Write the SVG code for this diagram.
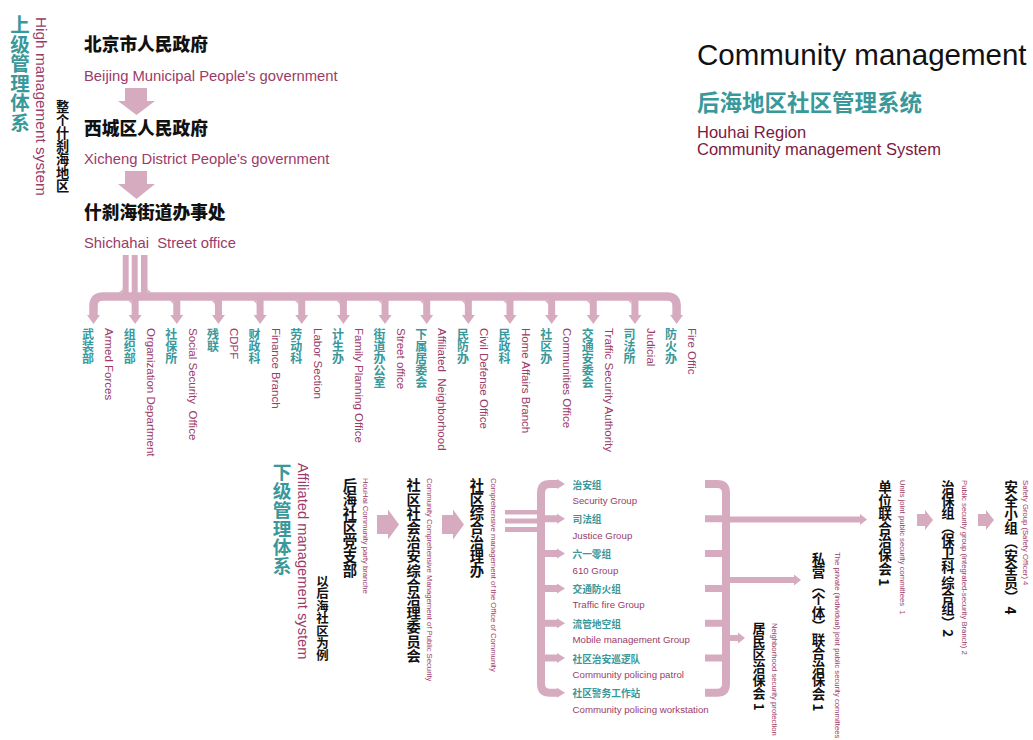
<svg xmlns="http://www.w3.org/2000/svg" width="1033" height="740" viewBox="0 0 1033 740">
  <style>
    .pk { fill: #d7abbf; }
    .pks { fill: none; stroke: #d7abbf; }
    .cn { font-family: "Noto Sans CJK SC", sans-serif; }
    .v { writing-mode: vertical-rl; }
    .hd { font-family: "Noto Sans CJK SC", sans-serif; font-weight: 900; fill: #111; }
    .hv { font-family: "Noto Sans CJK SC", sans-serif; font-weight: 700; fill: #111; writing-mode: vertical-rl; }
    .teal { fill: #38989a; font-weight: 700; }
    .en { font-family: "Liberation Sans", Arial, sans-serif; fill: #9b3b68; white-space: pre; }
    .dk { font-family: "Liberation Sans", Arial, sans-serif; fill: #7a1a42; }
    .dep { font-size: 12px; }
    .dep-en { font-size: 11.5px; }
    .tiny { font-size: 7.7px; }
    .grp { font-size: 9.7px; }
  </style>

  <!-- title block -->
  <g id="title">
    <text x="697" y="65" font-family="Liberation Sans, Arial, sans-serif" font-size="29.5" fill="#111">Community management</text>
    <text x="697" y="111" class="cn teal" font-size="22.5" font-weight="900">后海地区社区管理系统</text>
    <text x="697" y="138" class="dk" font-size="16.5">Houhai Region</text>
    <text x="697" y="155" class="dk" font-size="16.5">Community management System</text>
  </g>

  <!-- upper management labels -->
  <g id="upper-system">
    <text x="20" y="15" class="cn teal v" font-size="19.5" font-weight="900">上级管理体系</text>
    <text transform="translate(35.5,17) rotate(90)" class="en" font-size="15.4">High management system</text>
    <text x="62.5" y="100" class="hv" font-size="13.2">整个什刹海地区</text>
  </g>

  <g id="beijing">
    <text x="84" y="51" class="hd" font-size="17.7">北京市人民政府</text>
    <text x="84" y="81" class="en" font-size="14.8">Beijing Municipal People's government</text>
  </g>
  <g id="xicheng">
    <text x="84" y="135" class="hd" font-size="17.7">西城区人民政府</text>
    <text x="84" y="164" class="en" font-size="14.8">Xicheng District People's government</text>
  </g>
  <g id="shichahai">
    <text x="84" y="219" class="hd" font-size="17.7">什刹海街道办事处</text>
    <text x="84" y="248" class="en" font-size="14.8">Shichahai  Street office</text>
  </g>

  <!-- connectors -->
  <g id="connectors">
    <!-- downward block arrows -->
    <path class="pk" d="M125 88 H147 V101 H155 L136.5 115 L118 101 H125 Z"/>
    <path class="pk" d="M125 171 H147 V184 H155 L136.5 199 L118 184 H125 Z"/>

    <!-- triple feed into the department bar -->
    <rect class="pk" x="122.7" y="255" width="6" height="42"/>
    <rect class="pk" x="131.7" y="255" width="6" height="42"/>
    <rect class="pk" x="141" y="255" width="6.5" height="42"/>
    <path class="pk" d="M122.7 287.25 A5 5 0 0 1 117.7 292.25 H122.7 Z"/>
    <path class="pk" d="M147.5 287.25 A5 5 0 0 0 152.5 292.25 H147.5 Z"/>

    <!-- department bar with end drops -->
    <path class="pks" stroke-width="8.5" d="M93.5 316 V306 Q93.5 296.5 103 296.5 H667 Q676.6 296.5 676.6 306 V316"/>

    <!-- middle drops -->
    <g class="pk">
      <rect x="131.65" y="299" width="7" height="17"/><path d="M126.65 300.75 A5 5 0 0 1 131.65 305.75 V300.75 Z"/>
      <rect x="173.3" y="299" width="7" height="17"/><path d="M168.3 300.75 A5 5 0 0 1 173.3 305.75 V300.75 Z"/>
      <rect x="214.95" y="299" width="7" height="17"/><path d="M209.95 300.75 A5 5 0 0 1 214.95 305.75 V300.75 Z"/>
      <rect x="256.6" y="299" width="7" height="17"/><path d="M251.6 300.75 A5 5 0 0 1 256.6 305.75 V300.75 Z"/>
      <rect x="298.25" y="299" width="7" height="17"/><path d="M293.25 300.75 A5 5 0 0 1 298.25 305.75 V300.75 Z"/>
      <rect x="339.9" y="299" width="7" height="17"/><path d="M334.9 300.75 A5 5 0 0 1 339.9 305.75 V300.75 Z"/>
      <rect x="381.55" y="299" width="7" height="17"/><path d="M376.55 300.75 A5 5 0 0 1 381.55 305.75 V300.75 Z"/>
      <rect x="423.2" y="299" width="7" height="17"/><path d="M418.2 300.75 A5 5 0 0 1 423.2 305.75 V300.75 Z"/>
      <rect x="464.85" y="299" width="7" height="17"/><path d="M459.85 300.75 A5 5 0 0 1 464.85 305.75 V300.75 Z"/>
      <rect x="506.5" y="299" width="7" height="17"/><path d="M501.5 300.75 A5 5 0 0 1 506.5 305.75 V300.75 Z"/>
      <rect x="548.15" y="299" width="7" height="17"/><path d="M543.15 300.75 A5 5 0 0 1 548.15 305.75 V300.75 Z"/>
      <rect x="589.8" y="299" width="7" height="17"/><path d="M584.8 300.75 A5 5 0 0 1 589.8 305.75 V300.75 Z"/>
      <rect x="631.45" y="299" width="7" height="17"/><path d="M626.45 300.75 A5 5 0 0 1 631.45 305.75 V300.75 Z"/>
    </g>
    <!-- drop arrowheads -->
    <g class="pk">
      <polygon points="87,315 100,315 93.5,324"/>
      <polygon points="128.65,315 141.65,315 135.15,324"/>
      <polygon points="170.3,315 183.3,315 176.8,324"/>
      <polygon points="211.95,315 224.95,315 218.45,324"/>
      <polygon points="253.6,315 266.6,315 260.1,324"/>
      <polygon points="295.25,315 308.25,315 301.75,324"/>
      <polygon points="336.9,315 349.9,315 343.4,324"/>
      <polygon points="378.55,315 391.55,315 385.05,324"/>
      <polygon points="420.2,315 433.2,315 426.7,324"/>
      <polygon points="461.85,315 474.85,315 468.35,324"/>
      <polygon points="503.5,315 516.5,315 510,324"/>
      <polygon points="545.15,315 558.15,315 551.65,324"/>
      <polygon points="586.8,315 599.8,315 593.3,324"/>
      <polygon points="628.45,315 641.45,315 634.95,324"/>
      <polygon points="670.1,315 683.1,315 676.6,324"/>
    </g>

    <!-- lower chain arrows -->
    <path class="pk" d="M377 515 H388 V509.5 L399 524.5 L388 539.5 V534 H377 Z"/>
    <path class="pk" d="M442 515 H453 V509.5 L464 524.5 L453 539.5 V534 H442 Z"/>

    <!-- triple feed into the group bracket -->
    <rect class="pk" x="505" y="510" width="37" height="4.5"/>
    <rect class="pk" x="505" y="518.5" width="37" height="5"/>
    <rect class="pk" x="505" y="527" width="37" height="5"/>

    <!-- left bracket -->
    <path class="pks" stroke-width="8" d="M558 484 H550 Q541 484 541 493 V683.8 Q541 692.8 550 692.8 H558"/>
    <path class="pks" stroke-width="7" d="M541 518.8 H558 M541 553.6 H558 M541 588.4 H558 M541 623.2 H558 M541 658 H558"/>
    <g class="pk">
      <polygon points="557,479 565,484 557,489"/>
      <polygon points="557,513.8 565,518.8 557,523.8"/>
      <polygon points="557,548.6 565,553.6 557,558.6"/>
      <polygon points="557,583.4 565,588.4 557,593.4"/>
      <polygon points="557,618.2 565,623.2 557,628.2"/>
      <polygon points="557,653 565,658 557,663"/>
      <polygon points="557,687.8 565,692.8 557,697.8"/>
    </g>

    <!-- right bracket -->
    <path class="pks" stroke-width="8" d="M705 484 H717 Q726 484 726 493 V683.8 Q726 692.8 717 692.8 H705"/>
    <path class="pks" stroke-width="7" d="M705 518.8 H726 M705 553.6 H726 M705 588.4 H726 M705 623.2 H726 M705 658 H726"/>
    <path class="pks" stroke-width="6" d="M726 519.5 H861 M726 580 H795 M726 638 H739"/>
    <g class="pk">
      <polygon points="860,514 867,519.5 860,525"/>
      <polygon points="794,574.5 801,580 794,585.5"/>
      <polygon points="738,632.5 745,638 738,643.5"/>
    </g>

    <!-- unit chain arrows -->
    <path class="pk" d="M917 514 H925 V510 L933 520 L925 530 V526 H917 Z"/>
    <path class="pk" d="M978 514 H986 V510 L994 520 L986 530 V526 H978 Z"/>
  </g>

  <!-- street office departments -->
  <g id="departments">
    <g id="dep-armed"><text x="88" y="328" class="cn teal dep v">武装部</text><text transform="translate(105.2,328) rotate(90)" class="en dep-en">Armed Forces</text></g>
    <g id="dep-org"><text x="129.7" y="328" class="cn teal dep v">组织部</text><text transform="translate(146.9,328) rotate(90)" class="en dep-en">Organization Department</text></g>
    <g id="dep-social"><text x="171.3" y="328" class="cn teal dep v">社保所</text><text transform="translate(188.5,328) rotate(90)" class="en dep-en">Social Security  Office</text></g>
    <g id="dep-cdpf"><text x="213" y="328" class="cn teal dep v">残联</text><text transform="translate(230.2,328) rotate(90)" class="en dep-en">CDPF</text></g>
    <g id="dep-finance"><text x="254.6" y="328" class="cn teal dep v">财政科</text><text transform="translate(271.8,328) rotate(90)" class="en dep-en">Finance Branch</text></g>
    <g id="dep-labor"><text x="296.3" y="328" class="cn teal dep v">劳动科</text><text transform="translate(313.5,328) rotate(90)" class="en dep-en">Labor Section</text></g>
    <g id="dep-family"><text x="337.9" y="328" class="cn teal dep v">计生办</text><text transform="translate(355.1,328) rotate(90)" class="en dep-en">Family Planning Office</text></g>
    <g id="dep-street"><text x="379.6" y="328" class="cn teal dep v">街道办公室</text><text transform="translate(396.8,328) rotate(90)" class="en dep-en">Street office</text></g>
    <g id="dep-neigh"><text x="421.2" y="328" class="cn teal dep v">下属居委会</text><text transform="translate(438.4,328) rotate(90)" class="en dep-en">Affiliated  Neighborhood</text></g>
    <g id="dep-civil"><text x="462.9" y="328" class="cn teal dep v">民防办</text><text transform="translate(480.1,328) rotate(90)" class="en dep-en">Civil Defense Office</text></g>
    <g id="dep-home"><text x="504.5" y="328" class="cn teal dep v">民政科</text><text transform="translate(521.7,328) rotate(90)" class="en dep-en">Home Affairs Branch</text></g>
    <g id="dep-comm"><text x="546.2" y="328" class="cn teal dep v">社区办</text><text transform="translate(563.4,328) rotate(90)" class="en dep-en">Communities Office</text></g>
    <g id="dep-traffic"><text x="587.8" y="328" class="cn teal dep v">交通安委会</text><text transform="translate(605,328) rotate(90)" class="en dep-en">Traffic Security Authority</text></g>
    <g id="dep-judicial"><text x="629.5" y="328" class="cn teal dep v">司法所</text><text transform="translate(646.7,328) rotate(90)" class="en dep-en">Judicial</text></g>
    <g id="dep-fire"><text x="671.1" y="328" class="cn teal dep v">防火办</text><text transform="translate(688.3,328) rotate(90)" class="en dep-en">Fire Offic</text></g>
  </g>

  <!-- lower management labels -->
  <g id="lower-system">
    <text x="282" y="463" class="cn teal v" font-size="18.7" font-weight="900">下级管理体系</text>
    <text transform="translate(297.5,463) rotate(90)" class="en" font-size="14.7">Affiliated management system</text>
    <text x="322.5" y="575" class="hv" font-size="12.4">以后海社区为例</text>
  </g>

  <g id="party-branch">
    <text x="350" y="478" class="hv" font-size="14.3">后海社区党支部</text>
    <text transform="translate(363,478) rotate(90)" class="en tiny">HouHai Community party branche</text>
  </g>
  <g id="security-committee">
    <text x="413.5" y="478" class="hv" font-size="14.2">社区社会治安综合治理委员会</text>
    <text transform="translate(427,478) rotate(90)" class="en tiny">Community Comprehensive Management of Public Security</text>
  </g>
  <g id="governance-office">
    <text x="477" y="478" class="hv" font-size="14.3">社区综合治理办</text>
    <text transform="translate(491,478) rotate(90)" class="en tiny">Comprehensive management of the Office of Community</text>
  </g>

  <!-- working groups -->
  <g id="groups">
    <g id="grp-security"><text x="572.5" y="488.5" class="cn teal grp">治安组</text><text x="572.5" y="504" class="en grp">Security Group</text></g>
    <g id="grp-justice"><text x="572.5" y="523.3" class="cn teal grp">司法组</text><text x="572.5" y="538.8" class="en grp">Justice Group</text></g>
    <g id="grp-610"><text x="572.5" y="558.1" class="cn teal grp">六一零组</text><text x="572.5" y="573.6" class="en grp">610 Group</text></g>
    <g id="grp-traffic"><text x="572.5" y="592.9" class="cn teal grp">交通防火组</text><text x="572.5" y="608.4" class="en grp">Traffic fire Group</text></g>
    <g id="grp-mobile"><text x="572.5" y="627.7" class="cn teal grp">流管地空组</text><text x="572.5" y="643.2" class="en grp">Mobile management Group</text></g>
    <g id="grp-patrol"><text x="572.5" y="662.5" class="cn teal grp">社区治安巡逻队</text><text x="572.5" y="678" class="en grp">Community policing patrol</text></g>
    <g id="grp-station"><text x="572.5" y="697.3" class="cn teal grp">社区警务工作站</text><text x="572.5" y="712.8" class="en grp">Community policing workstation</text></g>
  </g>

  <!-- security committees -->
  <g id="neighborhood-committee">
    <text x="759" y="622" class="hv" font-size="13">居民区治保会 1</text>
    <text transform="translate(772,623) rotate(90)" class="en tiny">Neighborhood security protection</text>
  </g>
  <g id="private-committee">
    <text x="818.5" y="552" class="hv" font-size="13.5">私营（个体）联合治保会 1</text>
    <text transform="translate(834.5,552) rotate(90)" class="en tiny">The private (individual) joint public security committees</text>
  </g>
  <g id="units-committee">
    <text x="885" y="480" class="hv" font-size="13.6">单位联合治保会 1</text>
    <text transform="translate(900,480) rotate(90)" class="en tiny">Units joint public security committees  1</text>
  </g>
  <g id="security-group">
    <text x="948" y="480" class="hv" font-size="13.3">治保组（保卫科 综合组）2</text>
    <text transform="translate(962,480) rotate(90)" class="en tiny">Public security group (integrated-security Branch) 2</text>
  </g>
  <g id="safety-group">
    <text x="1011" y="480" class="hv" font-size="13.7">安全小组（安全员） 4</text>
    <text transform="translate(1023,480) rotate(90)" class="en tiny">Safety Group (Safety Officer) 4</text>
  </g>
</svg>
